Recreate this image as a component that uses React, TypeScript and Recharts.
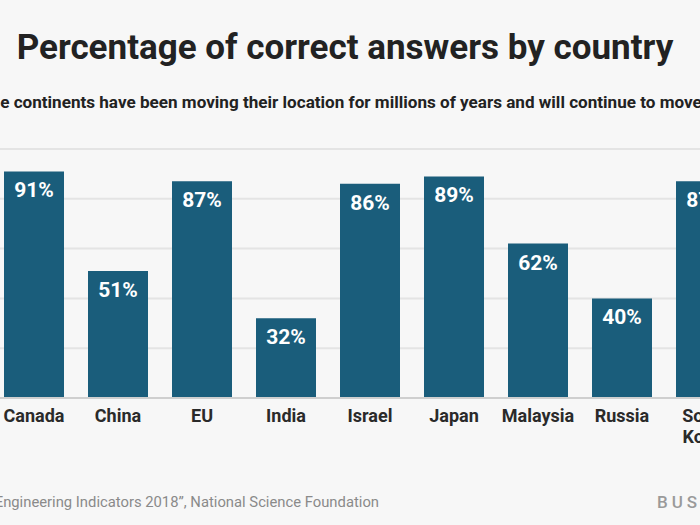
import React from 'react';
import { BarChart, Bar, XAxis, YAxis, CartesianGrid, LabelList, Text } from 'recharts';

const countries: string[] = ['Canada', 'China', 'EU', 'India', 'Israel', 'Japan', 'Malaysia', 'Russia', 'South Korea'];
const correctPct: number[] = [91, 51, 87, 32, 86, 89, 62, 40, 87];
const yTicks: number[] = [0, 20, 40, 60, 80, 100];

const titleText = 'Percentage of correct answers by country';
const subtitleText = 'The continents have been moving their location for millions of years and will continue to move in the future';
const sourceText = 'Source: \u201CScience and Engineering Indicators 2018\u201D, National Science Foundation';
const brandText = 'BUSINESS INSIDER';

const data = countries.map((c, i) => ({ country: c, value: correctPct[i] }));

const BG = '#f7f7f7';
const BAR = '#1a5d7b';
const FONT = 'Roboto, "Noto Sans", sans-serif';

const CountryTick = (props: any) => {
  const { x, payload } = props;
  return (
    <Text
      x={x}
      y={409}
      width={84}
      textAnchor="middle"
      verticalAnchor="start"
      lineHeight="1.2em"
      fill="#2a2a2a"
      fontSize={18}
      fontWeight={700}
      fontFamily={FONT}
      style={{ fontSize: 18, fontWeight: 700, fontFamily: FONT }}
    >
      {payload.value}
    </Text>
  );
};

export default function App() {
  return (
    <div
      style={{
        position: 'fixed',
        top: 0,
        left: 0,
        width: 700,
        height: 525,
        overflow: 'hidden',
        background: BG,
      }}
    >
      <div style={{ position: 'absolute', left: -8, top: 0 }}>
        <BarChart
          width={756}
          height={525}
          data={data}
          margin={{ top: 149, right: 0, left: 0, bottom: 67 }}
          barSize={60}
        >
          <CartesianGrid vertical={false} stroke="#e4e4e4" strokeWidth={2} />
          <YAxis hide domain={[0, 100]} ticks={yTicks} />
          <XAxis
            dataKey="country"
            height={60}
            axisLine={{ stroke: '#cfcfcf', strokeWidth: 2 }}
            tickLine={false}
            interval={0}
            tick={<CountryTick />}
          />
          <Bar dataKey="value" fill={BAR} isAnimationActive={false}>
            <LabelList
              dataKey="value"
              position="insideTop"
              offset={11}
              fill="#ffffff"
              fontSize={21}
              fontWeight={700}
              fontFamily={FONT}
              formatter={(v: any) => `${v}%`}
            />
          </Bar>
        </BarChart>
      </div>
      <svg
        width={700}
        height={525}
        style={{ position: 'absolute', left: 0, top: 0, pointerEvents: 'none' }}
      >
        <text
          x={345}
          y={59}
          textAnchor="middle"
          fontFamily={FONT}
          fontWeight={700}
          fontSize={35}
          fill="#222222"
        >
          {titleText}
        </text>
        <text
          x={-20}
          y={108}
          textAnchor="start"
          fontFamily={FONT}
          fontWeight={700}
          fontSize={17.1}
          fill="#222222"
        >
          {subtitleText}
        </text>
        <text
          x={379}
          y={507}
          textAnchor="end"
          fontFamily={FONT}
          fontWeight={400}
          fontSize={14.8}
          fill="#8a8a8a"
        >
          {sourceText}
        </text>
        <text
          x={657}
          y={508}
          textAnchor="start"
          fontFamily={FONT}
          fontWeight={500}
          fontSize={17}
          letterSpacing={4}
          fill="#9a9a9a"
        >
          {brandText}
        </text>
      </svg>
    </div>
  );
}
